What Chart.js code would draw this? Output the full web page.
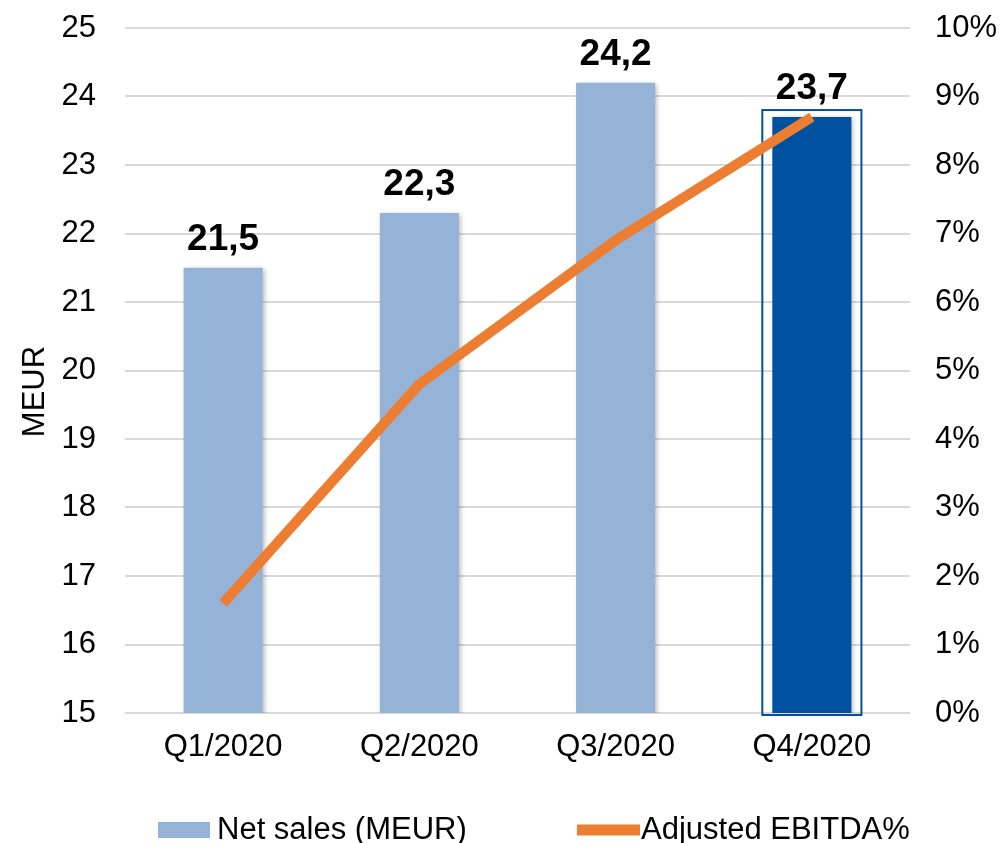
<!DOCTYPE html>
<html>
<head>
<meta charset="utf-8">
<script src="https://cdn.jsdelivr.net/npm/chart.js@4.4.1/dist/chart.umd.min.js"></script>
<style>
  html, body { margin: 0; padding: 0; background: #fff; }
  #wrap { width: 1005px; height: 843px; }
</style>
</head>
<body>
<div id="wrap"><canvas id="chartCanvas" width="1005" height="843"></canvas></div>
<script>
const quarters = ['Q1/2020', 'Q2/2020', 'Q3/2020', 'Q4/2020'];
const netSales = [21.5, 22.3, 24.2, 23.7];
const ebitdaPct = [1.6, 4.8, 6.9, 8.7];
const salesTicks = [15, 25];
const pctTicks = [0, 10];
const highlightIndex = 3;

const lightBlue = '#95B3D7';
const darkBlue = '#00519F';
const orange = '#ED7D31';
const font = 'Liberation Sans, Arial, sans-serif';

// shadow under the bars, like the office chart
const barShadow = {
    id: 'barShadow',
    beforeDatasetDraw(chart, args) {
        if (args.index !== 0) return;
        const ctx = chart.ctx;
        ctx.save();
        ctx.shadowColor = 'rgba(0,0,0,0.28)';
        ctx.shadowBlur = 5;
        ctx.shadowOffsetX = 2;
        ctx.shadowOffsetY = 1;
    },
    afterDatasetDraw(chart, args) {
        if (args.index !== 0) return;
        const ctx = chart.ctx;
        ctx.restore();

        // outline box around the last quarter
        const bar = chart.getDatasetMeta(0).data[highlightIndex];
        const half = bar.width / 2;
        const base = chart.scales.y.getPixelForValue(salesTicks[0]);
        ctx.save();
        ctx.strokeStyle = darkBlue;
        ctx.lineWidth = 2;
        ctx.strokeRect(bar.x - half - 10, bar.y - 7, bar.width + 20, base - bar.y + 9);
        ctx.restore();
    }
};

const barLabels = {
    id: 'barLabels',
    afterDatasetsDraw(chart) {
        const ctx = chart.ctx;
        const meta = chart.getDatasetMeta(0);
        ctx.save();
        ctx.font = 'bold 37px ' + font;
        ctx.fillStyle = '#000';
        ctx.textAlign = 'center';
        ctx.textBaseline = 'alphabetic';
        meta.data.forEach((bar, i) => {
            const txt = netSales[i].toFixed(1).replace('.', ',');
            ctx.fillText(txt, bar.x, bar.y - 18);
        });
        ctx.restore();
    }
};

// axis title sits a bit below the middle in the original
const axisTitle = {
    id: 'axisTitle',
    afterDraw(chart) {
        const ctx = chart.ctx;
        const area = chart.chartArea;
        ctx.save();
        ctx.translate(35, (area.top + area.bottom) / 2 + 21);
        ctx.rotate(-Math.PI / 2);
        ctx.font = '31px ' + font;
        ctx.fillStyle = '#000';
        ctx.textAlign = 'center';
        ctx.textBaseline = 'middle';
        ctx.fillText('MEUR', 0, 0);
        ctx.restore();
    }
};

const bottomLegend = {
    id: 'bottomLegend',
    afterDraw(chart) {
        const ctx = chart.ctx;
        const ds = chart.data.datasets;
        ctx.save();
        ctx.font = '31px ' + font;
        ctx.textBaseline = 'alphabetic';

        ctx.fillStyle = lightBlue;
        ctx.fillRect(158, 822, 52, 16);
        ctx.fillStyle = '#000';
        ctx.fillText(ds[0].label, 217, 839);

        ctx.strokeStyle = ds[1].borderColor;
        ctx.lineWidth = 11;
        ctx.beginPath();
        ctx.moveTo(577, 830);
        ctx.lineTo(640, 830);
        ctx.stroke();
        ctx.fillText(ds[1].label, 641, 839);
        ctx.restore();
    }
};

function noTickPadding(scale, width) {
    scale.width = width;
    scale.paddingTop = 0;
    scale.paddingBottom = 0;
}

const ctx = document.getElementById('chartCanvas').getContext('2d');
const chart = new Chart(ctx, {
    type: 'bar',
    data: {
        labels: quarters,
        datasets: [{
            type: 'bar',
            label: 'Net sales (MEUR)',
            data: netSales,
            backgroundColor: netSales.map((v, i) => i === highlightIndex ? darkBlue : lightBlue),
            borderWidth: 0,
            barPercentage: 0.403,
            categoryPercentage: 1,
            yAxisID: 'y',
            order: 1
        }, {
            type: 'line',
            label: 'Adjusted EBITDA%',
            data: ebitdaPct,
            borderColor: orange,
            backgroundColor: orange,
            borderWidth: 10,
            borderCapStyle: 'butt',
            borderJoinStyle: 'round',
            pointRadius: 0,
            tension: 0,
            yAxisID: 'y1',
            order: 0
        }]
    },
    options: {
        responsive: false,
        animation: false,
        layout: {
            padding: { top: 28, left: 0, right: 0, bottom: 0 }
        },
        plugins: {
            legend: { display: false },
            tooltip: { enabled: false }
        },
        scales: {
            x: {
                grid: { display: false, drawTicks: false },
                border: { display: false },
                ticks: {
                    color: '#000',
                    padding: 16,
                    font: { family: font, size: 31 }
                },
                afterFit(scale) { scale.height = 130; }
            },
            y: {
                position: 'left',
                min: salesTicks[0],
                max: salesTicks[1],
                grid: { color: '#D9D9D9', lineWidth: 2, drawTicks: false },
                border: { display: false },
                ticks: {
                    stepSize: 1,
                    color: '#000',
                    padding: 29,
                    font: { family: font, size: 31 }
                },
                afterFit(scale) { noTickPadding(scale, 125); }
            },
            y1: {
                position: 'right',
                min: pctTicks[0],
                max: pctTicks[1],
                grid: { display: false, drawTicks: false },
                border: { display: false },
                ticks: {
                    stepSize: 1,
                    color: '#000',
                    padding: 25,
                    font: { family: font, size: 31 },
                    callback: (v) => v + '%'
                },
                afterFit(scale) { noTickPadding(scale, 95); }
            }
        }
    },
    plugins: [barShadow, barLabels, axisTitle, bottomLegend]
});
</script>
</body>
</html>
